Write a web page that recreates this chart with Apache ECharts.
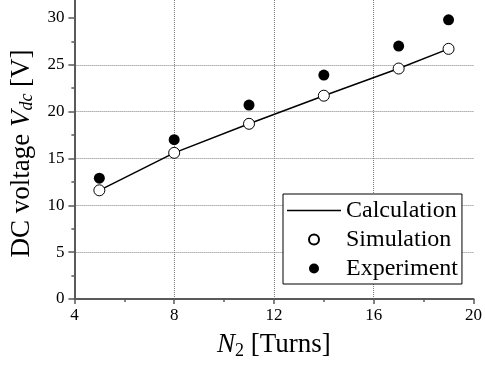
<!DOCTYPE html>
<html>
<head>
<meta charset="utf-8">
<script src="https://cdn.jsdelivr.net/npm/echarts@6/dist/echarts.min.js"></script>
<style>
  html, body { margin: 0; padding: 0; background: #fff; }
  #chart { width: 485px; height: 365px; }
</style>
</head>
<body>
<div id="chart"></div>
<script>
// Number of secondary turns N2
const turns = [5, 8, 11, 14, 17, 19];
// DC output voltage [V]
const calcVolts = [11.6, 15.6, 18.7, 21.7, 24.6, 26.7];
const simVolts  = [11.6, 15.6, 18.7, 21.7, 24.6, 26.7];
const expVolts  = [12.9, 17.0, 20.7, 23.9, 27.0, 29.8];

// Axis ticks
const yMajorTicks = [0, 5, 10, 15, 20, 25, 30];
const yMinorTicks = [2.5, 7.5, 12.5, 17.5, 22.5, 27.5];
const xMin = 4, xMax = 20, xStep = 4;
// top of the voltage axis: 300 px plot height at 47 px per 5 V keeps gridlines on whole pixels
const yTop = 300 / 9.4;

const FONT = 'Liberation Serif';
const AXIS_COLOR = '#5a5a5a';
const GRID_COLOR = '#808080';

const pairs = (xs, ys) => xs.map((x, i) => [x, ys[i]]);

const tickText = { fontFamily: FONT, fontSize: 17, color: '#000' };

const chart = echarts.init(document.getElementById('chart'), null, { renderer: 'canvas' });

chart.setOption({
  animation: false,
  backgroundColor: '#fff',
  textStyle: { fontFamily: FONT, fontSize: 17, color: '#000' },
  grid: { left: 73.5, right: 10.5, top: 0, bottom: 65, containLabel: false },
  legend: {
    orient: 'vertical',
    left: 283,
    top: 194,
    padding: [2, 4, 1, 4],
    itemGap: 0,
    itemWidth: 54,
    itemHeight: 10,
    backgroundColor: '#fff',
    borderColor: '#000',
    borderWidth: 1,
    borderRadius: 0,
    textStyle: { fontFamily: FONT, fontSize: 24, color: '#000', lineHeight: 29 },
    data: [
      { name: 'Calculation', icon: 'path://M0,0H54V1.5H0Z', itemStyle: { color: '#000' } },
      { name: 'Simulation' },
      { name: 'Experiment' }
    ]
  },
  xAxis: {
    type: 'value',
    min: xMin, max: xMax, interval: xStep,
    name: '{i|N}{sub|2} [Turns]',
    nameLocation: 'middle',
    nameGap: 31,
    nameTextStyle: {
      fontFamily: FONT, fontSize: 27, color: '#000',
      rich: {
        i: { fontFamily: FONT, fontSize: 27, fontStyle: 'italic', color: '#000' },
        sub: { fontFamily: FONT, fontSize: 18, color: '#000', padding: [12, 0, 0, 0] }
      }
    },
    axisLine: { show: true, lineStyle: { color: AXIS_COLOR, width: 2 } },
    axisTick: { show: true, inside: false, length: 5, lineStyle: { color: AXIS_COLOR, width: 1.5 } },
    minorTick: { show: true, splitNumber: 2, length: 3, lineStyle: { color: AXIS_COLOR, width: 1.5 } },
    axisLabel: Object.assign({ margin: 8 }, tickText),
    splitLine: {
      show: true, showMinLine: false, showMaxLine: false,
      lineStyle: { color: GRID_COLOR, type: [1, 1], width: 1 }
    }
  },
  yAxis: [
    {
      type: 'value',
      min: 0, max: yTop, interval: 5,
      name: 'DC voltage {i|V}{sub|dc} [V]',
      nameLocation: 'middle',
      nameGap: 36,
      nameRotate: 90,
      nameTextStyle: {
        fontFamily: FONT, fontSize: 27, color: '#000',
        padding: [0, 8, 0, 0],
        rich: {
          i: { fontFamily: FONT, fontSize: 27, fontStyle: 'italic', color: '#000' },
          sub: { fontFamily: FONT, fontSize: 18, fontStyle: 'italic', color: '#000', padding: [12, 0, 0, 0] }
        }
      },
      axisLine: { show: true, onZero: false, lineStyle: { color: AXIS_COLOR, width: 2 } },
      axisTick: { show: true, inside: false, length: 6, customValues: yMajorTicks, lineStyle: { color: AXIS_COLOR, width: 1.5 } },
      axisLabel: Object.assign({ margin: 10, customValues: yMajorTicks }, tickText),
      splitLine: {
        show: true, showMinLine: false, showMaxLine: false,
        lineStyle: { color: GRID_COLOR, type: [1, 1], width: 1 }
      }
    },
    {
      // minor ticks on the voltage axis
      type: 'value',
      min: 0, max: yTop, interval: 2.5,
      position: 'left',
      axisLine: { show: false },
      axisTick: { show: true, inside: false, length: 3, customValues: yMinorTicks, lineStyle: { color: AXIS_COLOR, width: 1.5 } },
      axisLabel: { show: false },
      splitLine: { show: false }
    }
  ],
  series: [
    {
      name: 'Calculation',
      type: 'line',
      data: pairs(turns, calcVolts),
      symbol: 'none',
      showSymbol: false,
      lineStyle: { color: '#000', width: 1.5 },
      itemStyle: { color: '#000' },
      z: 2
    },
    {
      name: 'Simulation',
      type: 'scatter',
      data: pairs(turns, simVolts),
      symbol: 'circle',
      symbolSize: 11,
      itemStyle: { color: '#fff', borderColor: '#000', borderWidth: 1, opacity: 1 },
      z: 3
    },
    {
      name: 'Experiment',
      type: 'scatter',
      data: pairs(turns, expVolts),
      symbol: 'circle',
      symbolSize: 11,
      itemStyle: { color: '#000', opacity: 1 },
      z: 3
    }
  ]
});
</script>
</body>
</html>
